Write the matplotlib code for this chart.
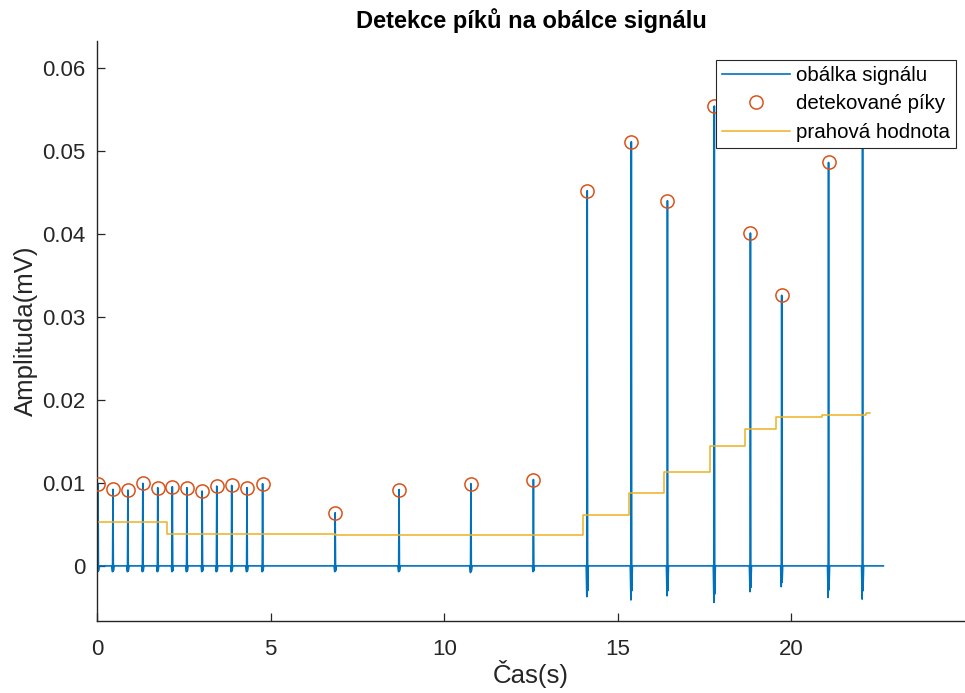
import numpy as np
import matplotlib.pyplot as plt

plt.rcParams['font.family'] = ['Liberation Sans', 'DejaVu Sans']

# detekované píky (čas v s, amplituda v mV)
t_piky = [0.03, 0.46, 0.89, 1.32, 1.75, 2.17, 2.59, 3.03, 3.45, 3.88, 4.32, 4.77,
          6.86, 8.70, 10.77, 12.57,
          14.12, 15.39, 16.43, 17.78, 18.82, 19.72, 21.07, 22.05]
a_piky = [0.00982, 0.00922, 0.00913, 0.00994, 0.00942, 0.00954, 0.00942, 0.00901,
          0.00961, 0.00970, 0.00942, 0.00990,
          0.0064, 0.0092, 0.0099, 0.0104,
          0.0452, 0.0511, 0.0440, 0.0554, 0.0401, 0.0326, 0.0486, 0.0575]
# záporné zákmity obálky kolem každého píku
zakmit_pred = [0.0007, 0.0007, 0.0007, 0.0007, 0.0007, 0.0007, 0.0007, 0.0007,
               0.0007, 0.0007, 0.0007, 0.0007,
               0.0007, 0.0007, 0.0008, 0.0007,
               0.0037, 0.0041, 0.0036, 0.0044, 0.0031, 0.0025, 0.0038, 0.0040]
zakmit_po = [0.0006, 0.0006, 0.0006, 0.0006, 0.0006, 0.0006, 0.0006, 0.0006,
             0.0006, 0.0006, 0.0006, 0.0006,
             0.0006, 0.0006, 0.0006, 0.0006,
             0.0030, 0.0030, 0.0030, 0.0034, 0.0026, 0.0020, 0.0029, 0.0030]
t_konec = 22.65

# prahová hodnota (schodovitá)
t_prah = [0.0, 2.03, 6.86, 10.77, 14.01, 15.31, 16.32, 17.65, 18.65, 19.57, 20.88, 22.16, 22.26]
prah = [0.0053, 0.0039, 0.00367, 0.00372, 0.0061, 0.0088, 0.01135, 0.01443,
        0.01645, 0.0179, 0.0182, 0.01846, 0.01846]

# obálka: nula + úzký kmit u každého píku
obx = [0.0]
oby = [0.0]
for t, a, d1, d2 in zip(t_piky, a_piky, zakmit_pred, zakmit_po):
    obx += [t - 0.03, t - 0.012, t, t + 0.012, t + 0.03]
    oby += [0.0, -d1, a, -d2, 0.0]
obx.append(t_konec)
oby.append(0.0)

fig = plt.figure(figsize=(9.65, 6.93), dpi=100)
ax = fig.add_axes([0.1005, 0.104, 0.8995, 0.837])

ax.plot(obx, oby, color='#0072BD', lw=1.2, label='obálka signálu', zorder=2)
ax.plot(t_piky, a_piky, 'o', mfc='none', mec='#D95319', ms=9.5, mew=1.1,
        label='detekované píky', zorder=3)
ax.plot(t_prah, prah, color='#EDB120', lw=1.1, drawstyle='steps-post',
        label='prahová hodnota', zorder=2)

ax.set_xlim(0, 25)
ax.set_ylim(-0.00663, 0.06325)
ax.set_xticks([0, 5, 10, 15, 20])
ax.set_yticks([0, 0.01, 0.02, 0.03, 0.04, 0.05, 0.06])
ax.set_yticklabels(['0', '0.01', '0.02', '0.03', '0.04', '0.05', '0.06'])

for s in ['top', 'right']:
    ax.spines[s].set_visible(False)
for s in ['left', 'bottom']:
    ax.spines[s].set_color('#262626')
    ax.spines[s].set_linewidth(1.0)
ax.tick_params(direction='in', length=6, width=0.9, color='#262626',
               labelsize=16, labelcolor='#262626')
ax.tick_params(axis='x', pad=13)
ax.tick_params(axis='y', pad=8)

ax.set_xlabel('Čas(s)', fontsize=18.5, color='#262626', labelpad=0)
ax.set_ylabel('Amplituda(mV)', fontsize=18.5, color='#262626', labelpad=3)
ax.set_title('Detekce píků na obálce signálu', fontsize=17, fontweight='bold', pad=9)

leg = ax.legend(loc='upper right', bbox_to_anchor=(0.99, 0.967), fontsize=14.8,
                frameon=True, fancybox=False, framealpha=1, edgecolor='#262626',
                handlelength=3.3, borderpad=0.3, labelspacing=0.45, handletextpad=0.3,
                borderaxespad=0)
leg.get_frame().set_linewidth(0.8)
leg.set_zorder(5)

fig.savefig('out.png', dpi=100)
